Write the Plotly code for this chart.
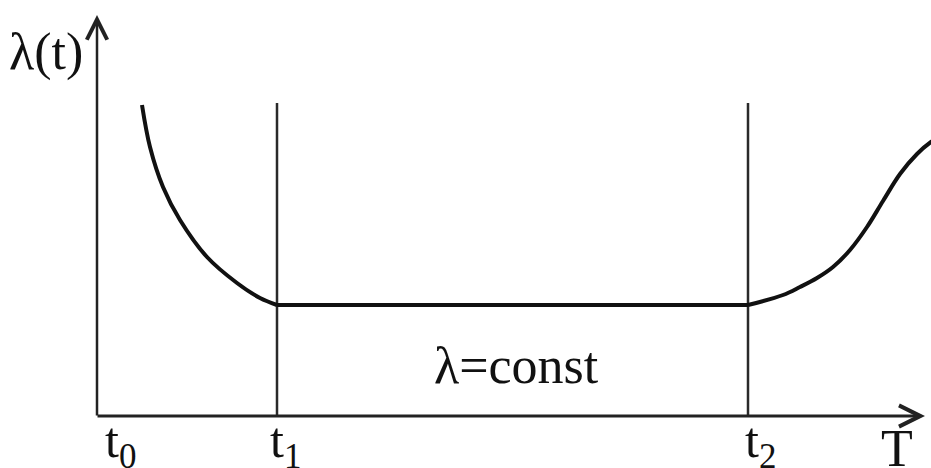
import plotly.graph_objects as go

# Bathtub failure-rate curve, time in arbitrary units
T0, T1, T2, T_END = 0.0, 18.0, 65.1, 82.8
LAMBDA_CONST = 11.1
LINE_TOP = 31.3
Y_AXIS_TOP = 40.1

# early-failure (burn-in) segment
early_t = [4.5, 5.3, 6.6, 8.3, 11.0, 14.0, 16.3, 18.0]
early_l = [31.1, 26.9, 22.9, 19.6, 15.9, 13.3, 11.8, 11.1]

# constant-rate segment
flat_t = [18.0, 65.1]
flat_l = [LAMBDA_CONST, LAMBDA_CONST]

# wear-out segment
wear_t = [65.1, 68.6, 70.3, 72.0, 73.6, 75.3, 77.0, 78.6, 80.3, 82.0, 83.4, 84.6]
wear_l = [11.1, 12.1, 12.9, 13.8, 14.9, 16.6, 18.9, 21.5, 24.2, 26.2, 27.4, 28.1]

FONT = "Liberation Serif, Times New Roman, serif"
INK = "#111111"

fig = go.Figure()

# boundaries of the three periods
for tb in (T1, T2):
    fig.add_trace(go.Scatter(x=[tb, tb], y=[0, LINE_TOP], mode="lines",
                             line=dict(color="#2a2a2a", width=2.5), hoverinfo="skip"))

fig.add_trace(go.Scatter(x=early_t, y=early_l, mode="lines", line_shape="spline",
                         line=dict(color=INK, width=4), hoverinfo="skip"))
fig.add_trace(go.Scatter(x=flat_t, y=flat_l, mode="lines",
                         line=dict(color=INK, width=4), hoverinfo="skip"))
fig.add_trace(go.Scatter(x=wear_t, y=wear_l, mode="lines", line_shape="spline",
                         line=dict(color=INK, width=4), hoverinfo="skip"))

# axes drawn as arrows
fig.add_annotation(x=T0, y=Y_AXIS_TOP, ax=T0, ay=-0.1, xref="x", yref="y",
                   axref="x", ayref="y", showarrow=True, arrowhead=5,
                   arrowsize=1.6, arrowwidth=2.5, arrowcolor="#222222", text="")
fig.add_annotation(x=T_END, y=0, ax=T0 - 0.1, ay=0, xref="x", yref="y",
                   axref="x", ayref="y", showarrow=True, arrowhead=5,
                   arrowsize=1.4, arrowwidth=3, arrowcolor="#222222", text="")

labels = [
    ("λ(t)", -5.1, 36.4, 52),
    ("t<sub>0</sub>", 2.3, -2.8, 50),
    ("t<sub>1</sub>", 18.8, -2.8, 50),
    ("t<sub>2</sub>", 66.3, -2.8, 50),
    ("T", 80.0, -3.2, 52),
    ("λ=const", 41.9, 5.1, 52),
]
for text, x, y, size in labels:
    fig.add_annotation(x=x, y=y, xref="x", yref="y", text=text, showarrow=False,
                       font=dict(family=FONT, size=size, color=INK))

fig.update_xaxes(range=[-9.7, 83.4], visible=False)
fig.update_yaxes(range=[-5.2, 41.6], visible=False)
fig.update_layout(width=931, height=468, margin=dict(l=0, r=0, t=0, b=0),
                  paper_bgcolor="white", plot_bgcolor="white", showlegend=False)

fig.write_html("out.html")
